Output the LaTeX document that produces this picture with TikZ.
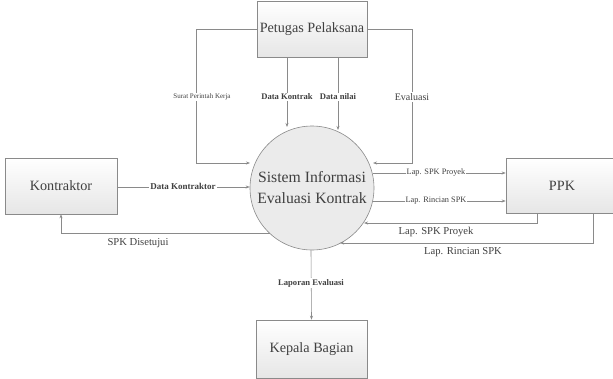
\documentclass[tikz,border=0pt]{standalone}
\usepackage{fontspec}
\setmainfont{Liberation Serif}
\usetikzlibrary{arrows.meta}
\definecolor{ln}{HTML}{8A8A8A}
\definecolor{tx}{HTML}{404040}
\definecolor{bxd}{HTML}{E6E6E6}
\tikzset{
  ent/.style={draw=ln, line width=0.6pt, top color=white, bottom color=bxd, text=tx, font=\fontsize{14.2}{16}\selectfont, minimum width=#1, inner sep=0pt},
  ent/.default=110pt,
  proc/.style={circle, draw=ln, line width=0.6pt, fill=bxd!80, text=tx, minimum size=124pt, inner sep=0pt, align=center, font=\fontsize{15.7}{21}\selectfont},
  flow/.style={draw=ln, line width=0.6pt, -{Stealth[length=4pt,width=3pt]}},
  lbl/.style={text=tx, fill=white, inner sep=1pt, font=\fontsize{8.3}{10}\selectfont},
  blbl/.style={text=tx, fill=white, inner sep=1pt, font=\bfseries\fontsize{8.6}{10}\selectfont},
  slbl/.style={text=tx, inner sep=1pt, font=\fontsize{10.6}{12}\selectfont},
}
\begin{document}
\begin{tikzpicture}[x=1pt,y=-1pt]
\useasboundingbox (0,0) rectangle (613,378);
% entities
\node[ent=110pt, minimum height=56pt] (pet) at (312,29) {Petugas Pelaksana};
\node[ent=112pt, minimum height=56pt] (kon) at (61,186) {Kontraktor};
\node[ent=112pt, minimum height=55pt] (ppk) at (562,185.5) {PPK};
\node[ent=111pt, minimum height=58pt] (kep) at (311.5,349) {Kepala Bagian};
\node[proc] (sis) at (312,188) {Sistem Informasi\\Evaluasi Kontrak};
% coordinates
\coordinate (pl1) at (196,29);
\coordinate (pl2) at (196,163);
\coordinate (pr1) at (412,29);
\coordinate (pr2) at (412,163);
% Petugas -> Sistem
\draw[flow] (pet.west |- pl1) -- (pl1) -- (pl2) -- (250,163) coordinate (e1);
\node[lbl, font=\fontsize{7}{8}\selectfont] (l1) at (202,97) {Surat Perintah Kerja};
\draw[flow] (287,57) -- (287,127) coordinate (e2);
\node[blbl] (l2) at (287,97) {Data Kontrak};
\draw[flow] (338,57) -- (338,130) coordinate (e3);
\node[blbl] (l3) at (338,97) {Data nilai};
\draw[flow] (pet.east |- pr1) -- (pr1) -- (pr2) -- (373,163) coordinate (e4);
\node[lbl, font=\fontsize{10}{12}\selectfont] (l4) at (412,97) {Evaluasi};
% Kontraktor
\draw[flow] (kon.east |- 0,187) -- (sis.west |- 0,187);
\node[blbl, font=\bfseries\fontsize{9}{10}\selectfont] (l5) at (183,186) {Data Kontraktor};
\draw[flow] (270,233) -- (61,233) -- (kon.south -| 61,0);
\node[slbl] (l6) at (138,243) {SPK Disetujui};
% PPK
\draw[flow] (373,173) -- (ppk.west |- 0,173);
\node[lbl] (l7) at (436,173) {Lap. SPK Proyek};
\draw[flow] (373,201) -- (ppk.west |- 0,201);
\node[lbl] (l8) at (436,201) {Lap. Rincian SPK};
\draw[flow] (ppk.south -| 537,0) -- (537,223) -- (364,223);
\node[slbl] (l9) at (436,232) {Lap. SPK Proyek};
\draw[flow] (ppk.south -| 593,0) -- (593,243) -- (340,243);
\node[slbl] (l10) at (463,252) {Lap. Rincian SPK};
% Kepala
\draw[flow] (sis.south -| 311,0) -- (kep.north);
\node[blbl] (l11) at (311,283) {Laporan Evaluasi};
\end{tikzpicture}
\end{document}
